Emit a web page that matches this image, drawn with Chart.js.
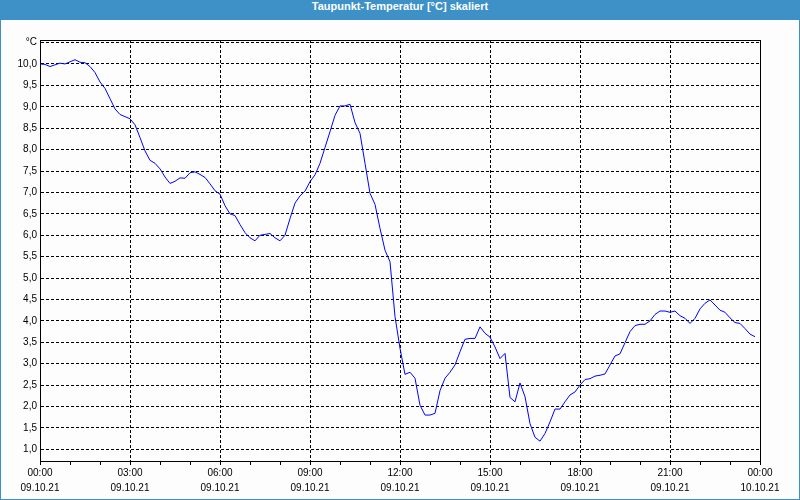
<!DOCTYPE html>
<html>
<head>
<meta charset="utf-8">
<script src="https://cdn.jsdelivr.net/npm/chart.js@4"></script>
<style>
  html, body { margin: 0; padding: 0; }
  body { width: 800px; height: 500px; position: relative; background: #fcfdfc; overflow: hidden; }
  #frame { position: absolute; left: 0; top: 0; width: 798px; height: 499px; border-left: 1px solid #3d91c7; border-right: 1px solid #3d91c7; border-bottom: 1px solid #3d91c7; }
  #title { position: absolute; left: 0; top: 0; width: 800px; height: 20px; line-height: 19px; background: #3d91c7; color: #ffffff; text-align: center; font: bold 11px "Liberation Sans", Arial, sans-serif; }
  #c { position: absolute; left: 0; top: 0; }
</style>
</head>
<body>
<div id="frame"></div>
<div id="title">Taupunkt-Temperatur [°C] skaliert</div>
<canvas id="c" width="800" height="500"></canvas>
<script>
// Sample spacing of the series (minutes from 09.10.21 00:00)
const stepMinutes = 10;

// Dew point readings [°C], one every 10 minutes
const dewPoint = [
  10.00, 9.99, 9.94, 9.98, 10.02, 10.00, 10.05, 10.10, 10.04, 10.03, 9.94, 9.80,
  9.58, 9.43, 9.19, 8.95, 8.82, 8.77, 8.72, 8.58, 8.28, 7.97, 7.75, 7.68,
  7.55, 7.36, 7.21, 7.26, 7.34, 7.33, 7.46, 7.48, 7.42, 7.35, 7.20, 7.04,
  6.96, 6.69, 6.50, 6.46, 6.25, 6.06, 5.94, 5.87, 6.00, 6.02, 6.04, 5.94,
  5.87, 6.00, 6.39, 6.75, 6.92, 7.03, 7.25, 7.41, 7.68, 8.05, 8.42, 8.80,
  9.02, 9.02, 9.06, 8.63, 8.38, 7.68, 6.98, 6.72, 6.16, 5.65, 5.38, 4.10,
  3.36, 2.75, 2.80, 2.66, 2.03, 1.80, 1.80, 1.84, 2.37, 2.66, 2.80, 2.97,
  3.28, 3.57, 3.59, 3.59, 3.86, 3.71, 3.62, 3.39, 3.12, 3.24, 2.21, 2.11,
  2.55, 2.23, 1.60, 1.28, 1.19, 1.37, 1.64, 1.94, 1.94, 2.11, 2.27, 2.34,
  2.50, 2.63, 2.65, 2.71, 2.73, 2.76, 2.97, 3.18, 3.23, 3.49, 3.75, 3.89,
  3.92, 3.92, 4.00, 4.15, 4.23, 4.23, 4.20, 4.23, 4.12, 4.06, 3.94, 4.06,
  4.28, 4.41, 4.49, 4.37, 4.25, 4.20, 4.07, 3.96, 3.94, 3.82, 3.69, 3.63
];

// X tick labels every 3 hours (time, date)
const xTickLabels = [
  ["00:00", "09.10.21"], ["03:00", "09.10.21"], ["06:00", "09.10.21"],
  ["09:00", "09.10.21"], ["12:00", "09.10.21"], ["15:00", "09.10.21"],
  ["18:00", "09.10.21"], ["21:00", "09.10.21"], ["00:00", "10.10.21"]
];
// Hourly minor tick positions (minutes)
const xTickMinutes = [0,60,120,180,240,300,360,420,480,540,600,660,720,780,840,900,960,1020,1080,1140,1200,1260,1320,1380,1440];
const xLabelEvery = 180;

// Y ticks and labels
const yTickValues = [1.0,1.5,2.0,2.5,3.0,3.5,4.0,4.5,5.0,5.5,6.0,6.5,7.0,7.5,8.0,8.5,9.0,9.5,10.0,10.5];
const yUnitTick = 10.5;
const yUnitLabel = "°C";
const yMin = 0.727, yMax = 10.56;

const points = dewPoint.map((v, i) => ({ x: i * stepMinutes, y: v }));

const frameBox = {
  id: 'frameBox',
  beforeDatasetsDraw(chart) {
    const a = chart.chartArea, ctx = chart.ctx;
    ctx.save();
    ctx.strokeStyle = '#000';
    ctx.lineWidth = 1;
    ctx.setLineDash([]);
    ctx.strokeRect(Math.round(a.left) + 0.5, Math.round(a.top) + 0.5, Math.round(a.right - a.left), Math.round(a.bottom - a.top));
    ctx.restore();
  }
};

const tickFont = { family: '"Liberation Sans", Arial, sans-serif', size: 10, lineHeight: '15px' };

new Chart(document.getElementById('c'), {
  type: 'line',
  data: {
    datasets: [{
      data: points,
      borderColor: '#0000ff',
      borderWidth: 1,
      pointRadius: 0,
      tension: 0,
      fill: false
    }]
  },
  options: {
    responsive: false,
    animation: false,
    devicePixelRatio: 1,
    layout: { padding: { top: 40, right: 40, bottom: 1, left: 0 } },
    plugins: { legend: { display: false }, tooltip: { enabled: false }, title: { display: false } },
    scales: {
      x: {
        type: 'linear',
        bounds: 'data',
        min: 0,
        max: 1440,
        afterBuildTicks: s => { s.ticks = xTickMinutes.map(v => ({ value: v })); },
        afterFit: s => { s.height = 38; },
        border: { display: true, color: '#000', width: 1, dash: [3, 2] },
        grid: {
          drawOnChartArea: true,
          drawTicks: true,
          tickLength: 4,
          tickColor: '#000',
          color: ctx => (ctx.tick && ctx.tick.value % xLabelEvery === 0) ? '#000' : 'rgba(0,0,0,0)',
          lineWidth: 1
        },
        ticks: {
          autoSkip: false,
          maxRotation: 0,
          minRotation: 0,
          padding: 1,
          color: '#000',
          font: tickFont,
          callback: v => (v % xLabelEvery === 0) ? xTickLabels[v / xLabelEvery] : ''
        }
      },
      y: {
        type: 'linear',
        bounds: 'data',
        min: yMin,
        max: yMax,
        afterBuildTicks: s => { s.ticks = yTickValues.map(v => ({ value: v })); },
        afterFit: s => { s.width = 40; },
        border: { display: true, color: '#000', width: 1, dash: [3, 2] },
        grid: {
          drawOnChartArea: true,
          drawTicks: false,
          color: '#000',
          lineWidth: 1
        },
        ticks: {
          padding: 3,
          color: '#000',
          font: tickFont,
          callback: v => Math.abs(v - yUnitTick) < 1e-6 ? yUnitLabel : v.toFixed(1).replace('.', ',')
        }
      }
    }
  },
  plugins: [frameBox]
});
</script>
</body>
</html>
